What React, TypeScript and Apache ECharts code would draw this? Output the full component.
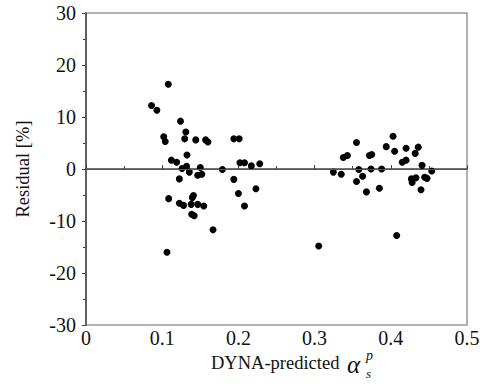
import React, { useEffect, useRef } from "react";
import * as echarts from "echarts";

const xValues: number[] = [
  0.108, 0.086, 0.093, 0.124, 0.102, 0.104, 0.131, 0.1295, 0.144, 0.157, 0.16, 0.194, 0.201,
  0.112, 0.119, 0.1325, 0.126, 0.132, 0.1356, 0.15, 0.1466, 0.152, 0.179, 0.202, 0.208, 0.217,
  0.228, 0.1225, 0.194, 0.2, 0.223, 0.1085, 0.1225, 0.128, 0.138, 0.141, 0.1395, 0.1466, 0.1545,
  0.1387, 0.142, 0.1667, 0.1063, 0.208,
  0.3054, 0.3246, 0.335, 0.3377, 0.343, 0.355, 0.358, 0.355, 0.363, 0.368, 0.372, 0.375, 0.374,
  0.385, 0.388, 0.394, 0.403, 0.405, 0.415, 0.42, 0.42, 0.436, 0.432, 0.441, 0.4537, 0.427,
  0.433, 0.428, 0.4445, 0.4475, 0.4396, 0.4077,
];
const residuals: number[] = [
  16.3, 12.2, 11.3, 9.2, 6.2, 5.3, 7.1, 5.8, 5.6, 5.6, 5.2, 5.8, 5.8,
  1.7, 1.3, 2.7, 0.1, 0.5, -0.6, 0.3, -1.2, -1.0, -0.1, 1.2, 1.2, 0.6,
  1.0, -1.9, -2.0, -4.7, -3.8, -5.7, -6.6, -7.0, -6.8, -5.1, -5.5, -6.8, -7.1,
  -8.7, -9.0, -11.7, -16.0, -7.1,
  -14.8, -0.6, -1.0, 2.2, 2.6, 5.1, -0.1, -2.4, -1.4, -4.4, 2.6, 2.8, 0.0,
  -3.7, 0.0, 4.3, 6.3, 3.4, 1.3, 1.7, 4.0, 4.2, 3.0, 0.7, -0.4, -1.9,
  -1.7, -2.6, -1.6, -1.8, -4.0, -12.8,
];
const xTicks: string[] = ["0", "0.1", "0.2", "0.3", "0.4", "0.5"];
const yTicks: string[] = ["-30", "-20", "-10", "0", "10", "20", "30"];

const FONT = "Liberation Serif";

export default function App() {
  const ref = useRef<HTMLDivElement>(null);
  useEffect(() => {
    if (!ref.current) return;
    const chart = echarts.init(ref.current, undefined, { renderer: "svg" });
    const data = xValues.map((x, i) => [x, residuals[i]]);
    chart.setOption({
      animation: false,
      backgroundColor: "#fff",
      textStyle: { fontFamily: FONT },
      grid: {
        left: 86,
        right: 19,
        top: 13,
        bottom: 63,
        show: true,
        borderColor: "#999",
        borderWidth: 1.5,
      },
      xAxis: {
        type: "value",
        min: 0,
        max: 0.5,
        interval: 0.1,
        axisLine: { show: true, lineStyle: { color: "#444", width: 1.5 } },
        axisTick: { show: true, inside: true, length: 4, lineStyle: { color: "#444" } },
        minorTick: { show: true, splitNumber: 2, length: 3, lineStyle: { color: "#444" } },
        splitLine: { show: false },
        axisLabel: {
          color: "#111",
          fontFamily: FONT,
          fontSize: 20,
          margin: 3,
          formatter: (v: number) => xTicks[Math.round(v * 10)] ?? "",
        },
      },
      yAxis: {
        type: "value",
        min: -30,
        max: 30,
        interval: 10,
        axisLine: { show: true, lineStyle: { color: "#444", width: 1.5 } },
        axisTick: { show: true, inside: false, length: 4, lineStyle: { color: "#444" } },
        minorTick: { show: true, splitNumber: 2, length: 3, lineStyle: { color: "#444" } },
        splitLine: { show: false },
        axisLabel: {
          color: "#111",
          fontFamily: FONT,
          fontSize: 20,
          margin: 10,
          formatter: (v: number) => yTicks[Math.round((v + 30) / 10)] ?? "",
        },
        name: "Residual [%]",
        nameLocation: "middle",
        nameGap: 54,
        nameTextStyle: { color: "#111", fontFamily: FONT, fontSize: 18.5 },
      },
      graphic: [
        {
          type: "text",
          x: 211,
          y: 363,
          style: {
            text: "DYNA-predicted",
            fill: "#111",
            fontFamily: FONT,
            fontSize: 18.5,
            verticalAlign: "middle",
            align: "left",
          },
        },
        {
          type: "text",
          x: 347,
          y: 364,
          style: {
            text: "α",
            fill: "#111",
            fontFamily: FONT,
            fontSize: 25,
            fontStyle: "italic",
            verticalAlign: "middle",
            align: "left",
          },
        },
        {
          type: "text",
          x: 366,
          y: 355,
          style: {
            text: "p",
            fill: "#111",
            fontFamily: FONT,
            fontSize: 14,
            fontStyle: "italic",
            verticalAlign: "middle",
            align: "left",
          },
        },
        {
          type: "text",
          x: 366,
          y: 373,
          style: {
            text: "s",
            fill: "#111",
            fontFamily: FONT,
            fontSize: 13,
            fontStyle: "italic",
            verticalAlign: "middle",
            align: "left",
          },
        },
      ],
      series: [
        {
          type: "scatter",
          data,
          symbol: "circle",
          symbolSize: 7,
          itemStyle: { color: "#000", opacity: 1 },
          markLine: {
            silent: true,
            symbol: "none",
            label: { show: false },
            lineStyle: { color: "#555", width: 1.2, type: "solid" },
            data: [{ yAxis: 0 }],
          },
        },
      ],
    });
    return () => chart.dispose();
  }, []);
  return <div ref={ref} style={{ width: 486, height: 388, position: "absolute", left: 0, top: 0 }} />;
}
